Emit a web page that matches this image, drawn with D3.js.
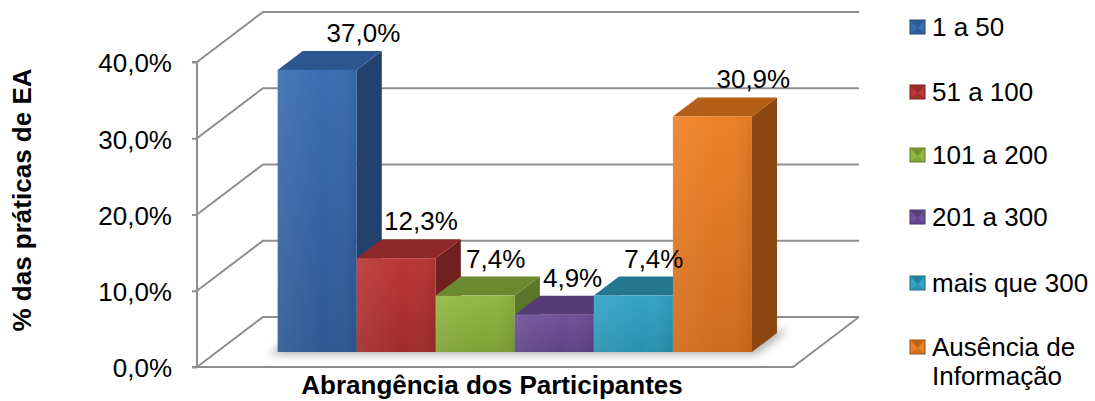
<!DOCTYPE html>
<html>
<head>
<meta charset="utf-8">
<script src="https://cdn.jsdelivr.net/npm/d3@7"></script>
<style>
  body { margin: 0; background: #fff; }
  svg { font-family: Arial, "Liberation Sans", sans-serif; }
</style>
</head>
<body>
<div id="chart"></div>
<script>
const categories = ['1 a 50', '51 a 100', '101 a 200', '201 a 300', 'mais que 300', 'Ausência de Informação'];
const values = [37.0, 12.3, 7.4, 4.9, 7.4, 30.9];
const yTicks = [0, 10, 20, 30, 40];
const legendLines = [['1 a 50'], ['51 a 100'], ['101 a 200'], ['201 a 300'], ['mais que 300'], ['Ausência de', 'Informação']];

// front / top / side colours for each series
const colors = [
  { front: ['#3a6db3', '#2d5994'], top: '#2b5690', side: '#22426d' },
  { front: ['#bb3735', '#a12b2a'], top: '#8e2828', side: '#70201f' },
  { front: ['#92b843', '#7ea135'], top: '#6b8a30', side: '#5a7628' },
  { front: ['#70519a', '#5e4285'], top: '#553c78', side: '#453161' },
  { front: ['#33a5c6', '#2890ae'], top: '#23788f', side: '#1d6377' },
  { front: ['#ee8126', '#d06a1b'], top: '#b45e17', side: '#8d4713' }
];

const width = 1095, height = 401;
const depthX = 66, depthY = 50;      // full floor depth offset
const barZ0 = 0.3, barZ1 = 0.68;     // bar depth inside the floor

const svg = d3.select('#chart').append('svg')
  .attr('width', width)
  .attr('height', height);

const defs = svg.append('defs');
colors.forEach((c, i) => {
  const g = defs.append('linearGradient').attr('id', 'front' + i)
    .attr('x1', 0).attr('y1', 0).attr('x2', 0).attr('y2', 1);
  g.append('stop').attr('offset', '0%').attr('stop-color', c.front[0]);
  g.append('stop').attr('offset', '100%').attr('stop-color', c.front[1]);
  const h = defs.append('linearGradient').attr('id', 'shade' + i)
    .attr('x1', 0).attr('y1', 0).attr('x2', 1).attr('y2', 0);
  h.append('stop').attr('offset', '0%').attr('stop-color', '#fff').attr('stop-opacity', 0.08);
  h.append('stop').attr('offset', '60%').attr('stop-color', '#fff').attr('stop-opacity', 0);
  h.append('stop').attr('offset', '100%').attr('stop-color', '#000').attr('stop-opacity', 0.08);
});
defs.append('filter').attr('id', 'blur')
  .attr('x', '-20%').attr('y', '-50%').attr('width', '140%').attr('height', '200%')
  .append('feGaussianBlur').attr('stdDeviation', 4);

const y = d3.scaleLinear().domain([0, 40]).range([367, 62]);
const x = d3.scaleBand().domain(categories).range([197, 793])
  .paddingInner(0).paddingOuter(0.77);

// project (screen-x on front plane, value, depth fraction)
const P = (px, v, z) => [px + z * depthX, y(v) - z * depthY];
const poly = pts => 'M' + pts.map(p => p.join(',')).join('L') + 'Z';

const gridColor = '#8e8e8e';
const grid = svg.append('g').attr('stroke', gridColor).attr('stroke-width', 2).attr('fill', 'none');

// back wall gridlines + side wall diagonals
yTicks.forEach(t => {
  const a = P(197, t, 0), b = P(197, t, 1), c = P(793, t, 1);
  grid.append('path').attr('d', `M${a}L${b}L${c}`);
});
// floor front and right edges
grid.append('path').attr('d', `M${P(197, 0, 0)}L${P(793, 0, 0)}L${P(793, 0, 1)}`);

// front value axis
const yAxis = d3.axisLeft(y).tickValues(yTicks).tickSize(5).tickPadding(20)
  .tickFormat(d => d3.format('.1f')(d).replace('.', ',') + '%');
const ax = svg.append('g').attr('transform', 'translate(197,0)').call(yAxis);
ax.select('.domain').attr('stroke', gridColor).attr('stroke-width', 2).attr('d', `M-5,${y(40)}H0V${y(0)}H-5`);
ax.selectAll('.tick line').attr('stroke', gridColor).attr('stroke-width', 2);
ax.selectAll('.tick text').attr('font-size', 26).attr('fill', '#000')
  .attr('font-family', 'Arial, "Liberation Sans", sans-serif').attr('dy', '0.38em');

// shadow under the bars
const sx0 = x(categories[0]), sx1 = x(categories[categories.length - 1]) + x.bandwidth();
svg.append('path')
  .attr('d', poly([P(sx0 - 6, 0, barZ0 - 0.05), P(sx1 + 8, 0, barZ0 - 0.05), P(sx1 + 8, 0, barZ1 + 0.05), P(sx0 - 6, 0, barZ1 + 0.05)]))
  .attr('fill', '#777').attr('opacity', 0.55).attr('filter', 'url(#blur)');

// 3D bars
const bars = svg.append('g');
categories.forEach((cat, i) => {
  const x0 = x(cat), x1 = x0 + x.bandwidth(), v = values[i];
  const g = bars.append('g');
  g.append('path').attr('d', poly([P(x1, 0, barZ0), P(x1, 0, barZ1), P(x1, v, barZ1), P(x1, v, barZ0)]))
    .attr('fill', colors[i].side);
  g.append('path').attr('d', poly([P(x0, v, barZ0), P(x0, v, barZ1), P(x1, v, barZ1), P(x1, v, barZ0)]))
    .attr('fill', colors[i].top);
  const f = [P(x0, v, barZ0), P(x1, 0, barZ0)];
  g.append('rect').attr('x', f[0][0]).attr('y', f[0][1])
    .attr('width', f[1][0] - f[0][0]).attr('height', f[1][1] - f[0][1])
    .attr('fill', `url(#front${i})`);
  g.append('rect').attr('x', f[0][0]).attr('y', f[0][1])
    .attr('width', f[1][0] - f[0][0]).attr('height', f[1][1] - f[0][1])
    .attr('fill', `url(#shade${i})`);
});

// data labels
categories.forEach((cat, i) => {
  const v = values[i];
  const base = P(x(cat) + x.bandwidth() / 2, 0, barZ0);
  const top = P(x(cat) + x.bandwidth() / 2, v, barZ1);
  const h = base[1] - P(0, v, barZ0)[1];
  svg.append('text')
    .attr('x', base[0] + 14 + h / 280 * 32)
    .attr('y', top[1] - 9)
    .attr('text-anchor', 'middle')
    .attr('font-size', 26)
    .text(d3.format('.1f')(v).replace('.', ',') + '%');
});

// axis titles
svg.append('text')
  .attr('x', 492).attr('y', 394)
  .attr('text-anchor', 'middle')
  .attr('font-size', 26).attr('font-weight', 'bold')
  .text('Abrangência dos Participantes');

svg.append('text')
  .attr('transform', 'translate(31,200) rotate(-90)')
  .attr('text-anchor', 'middle')
  .attr('font-size', 26).attr('font-weight', 'bold')
  .text('% das práticas de EA');

// legend
const legendY = [27, 92, 155, 217, 283, 347];
const legend = svg.append('g');
legendLines.forEach((lines, i) => {
  const g = legend.append('g').attr('transform', `translate(910,${legendY[i]})`);
  g.append('rect').attr('x', 0).attr('y', -7).attr('width', 15).attr('height', 14)
    .attr('fill', colors[i].front[0]).attr('stroke', colors[i].side).attr('stroke-width', 1);
  g.append('path').attr('d', 'M1,-6L14,-6L7.5,1Z').attr('fill', colors[i].top).attr('opacity', 0.8);
  g.append('path').attr('d', 'M1,6L14,6L7.5,1Z').attr('fill', colors[i].front[1]).attr('opacity', 0.9);
  lines.forEach((ln, j) => {
    g.append('text').attr('x', 22).attr('y', j * 29).attr('dy', '0.36em')
      .attr('font-size', 26).text(ln);
  });
});
</script>
</body>
</html>
